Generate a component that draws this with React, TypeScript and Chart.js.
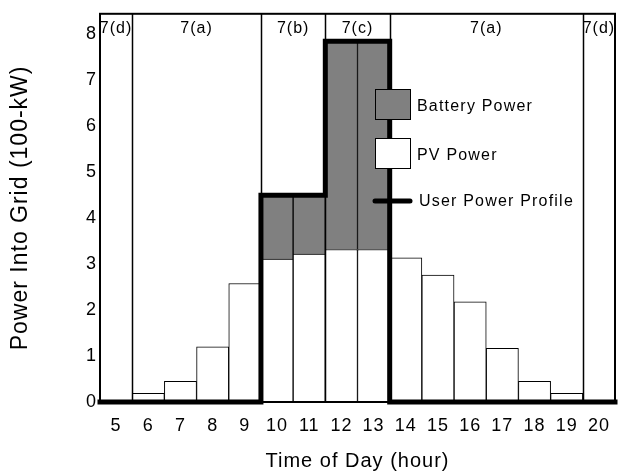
import React, { useEffect, useRef } from 'react';
import { Chart, registerables } from 'chart.js';

Chart.register(...registerables);

// ---- data ----
const hours = [5, 6, 7, 8, 9, 10, 11, 12, 13, 14, 15, 16, 17, 18, 19, 20];
const pvPower = [null, 0.19, 0.45, 1.2, 2.58, 3.11, 3.22, 3.32, 3.32, 3.14, 2.76, 2.18, 1.17, 0.45, 0.19, null];
const batteryPower = [null, null, null, null, null, 1.39, 1.28, 4.53, 4.53, null, null, null, null, null, null, null];
const userProfile = [0, 0, 0, 0, 0, 4.5, 4.5, 7.85, 7.85, 0, 0, 0, 0, 0, 0, 0];
const regionNames = ['7(d)', '7(a)', '7(b)', '7(c)', '7(a)', '7(d)'];
const regionBounds = [4.5, 5.5, 9.5, 11.5, 13.5, 19.5, 20.5];
const yTickValues = [0, 1, 2, 3, 4, 5, 6, 7, 8];
const xTitle = 'Time of Day (hour)';
const yTitle = 'Power Into Grid (100-kW)';

const FONT = "'Liberation Sans', Arial, Helvetica, sans-serif";

const spacingPlugin = {
  id: 'spacing',
  beforeDraw(chart: any) {
    (chart.ctx as any).letterSpacing = '1px';
  },
  afterDraw(chart: any) {
    (chart.ctx as any).letterSpacing = '0px';
  },
};

const overlayPlugin = {
  id: 'overlay',
  afterDatasetsDraw(chart: any) {
    const { ctx, chartArea: area } = chart;
    const xs = chart.scales.x;
    ctx.save();
    // region separators
    ctx.strokeStyle = '#000';
    ctx.lineWidth = 1.5;
    regionBounds.slice(1, -1).forEach((b) => {
      const px = Math.round(xs.getPixelForValue(b)) + 0.5;
      ctx.beginPath();
      ctx.moveTo(px, area.top);
      ctx.lineTo(px, area.bottom);
      ctx.stroke();
    });
    // region labels
    ctx.fillStyle = '#000';
    ctx.font = `16px ${FONT}`;
    (ctx as any).letterSpacing = '1px';
    ctx.textAlign = 'center';
    ctx.textBaseline = 'middle';
    regionNames.forEach((name, i) => {
      const c = (regionBounds[i] + regionBounds[i + 1]) / 2;
      ctx.fillText(name, xs.getPixelForValue(c), area.top + 15);
    });
    // frame
    ctx.lineWidth = 2;
    ctx.strokeRect(area.left, area.top, area.right - area.left, area.bottom - area.top);

    // legend
    const ds = chart.data.datasets;
    const items = [ds[1], ds[0], ds[2]];
    const bx = 375;
    let by = 89;
    ctx.font = `16px ${FONT}`;
    (ctx as any).letterSpacing = '1.2px';
    ctx.textAlign = 'left';
    items.forEach((d: any) => {
      if (d.type === 'line') {
        const cy = by + 14;
        ctx.beginPath();
        ctx.lineCap = 'round';
        ctx.lineWidth = 5;
        ctx.strokeStyle = d.borderColor;
        ctx.moveTo(bx, cy);
        ctx.lineTo(bx + 35, cy);
        ctx.stroke();
        ctx.fillText(d.label, bx + 44, cy + 1);
      } else {
        ctx.fillStyle = d.backgroundColor;
        ctx.fillRect(bx, by, 35, 30);
        ctx.lineWidth = 1;
        ctx.strokeStyle = '#000';
        ctx.strokeRect(bx + 0.5, by + 0.5, 35, 30);
        ctx.fillStyle = '#000';
        ctx.fillText(d.label, bx + 42, by + 18);
      }
      by += 49;
    });
    ctx.restore();
  },
};

export default function App() {
  const ref = useRef<HTMLCanvasElement | null>(null);
  useEffect(() => {
    if (!ref.current) return;
    Chart.defaults.font.family = FONT;
    Chart.defaults.color = '#000';
    const profileData = [
      { x: hours[0] - 0.5, y: userProfile[0] },
      ...hours.map((h, i) => ({ x: h, y: userProfile[i] })),
      { x: hours[hours.length - 1] + 0.5, y: userProfile[userProfile.length - 1] },
    ];
    const chart = new Chart(ref.current, {
      type: 'bar',
      data: {
        datasets: [
          {
            type: 'bar',
            label: 'PV Power',
            data: hours.map((h, i) => ({ x: h, y: pvPower[i] })) as any,
            backgroundColor: '#ffffff',
            borderColor: '#000000',
            borderWidth: 1,
            barPercentage: 1,
            categoryPercentage: 1,
            stack: 'power',
            order: 1,
          },
          {
            type: 'bar',
            label: 'Battery Power',
            data: hours.map((h, i) => ({ x: h, y: batteryPower[i] })) as any,
            backgroundColor: '#808080',
            borderColor: '#000000',
            borderWidth: 1,
            barPercentage: 1,
            categoryPercentage: 1,
            stack: 'power',
            order: 1,
          },
          {
            type: 'line',
            label: 'User Power Profile',
            data: profileData as any,
            borderColor: '#000000',
            borderWidth: 5,
            stepped: 'middle',
            pointRadius: 0,
            fill: false,
            clip: false as any,
            borderCapStyle: 'square',
            borderJoinStyle: 'miter',
            order: 0,
          } as any,
        ],
      },
      options: {
        responsive: false,
        animation: false,
        devicePixelRatio: 1,
        layout: { padding: { top: 12, right: 11, left: 0, bottom: 0 } },
        plugins: { legend: { display: false }, tooltip: { enabled: false } },
        scales: {
          x: {
            type: 'linear',
            stacked: true,
            offset: false,
            min: regionBounds[0],
            max: regionBounds[regionBounds.length - 1],
            grid: { display: false, drawTicks: false, tickLength: 0 },
            border: { display: false },
            afterBuildTicks: (s: any) => {
              s.ticks = hours.map((v) => ({ value: v }));
            },
            afterFit: (s: any) => {
              s.height = 72;
            },
            ticks: {
              autoSkip: false,
              maxRotation: 0,
              padding: 13,
              font: { size: 18 },
              color: '#000',
              callback: (v: any) => String(v),
            },
            title: {
              display: true,
              text: xTitle,
              font: { size: 20 },
              color: '#000',
              padding: { top: 0, bottom: 1 },
            },
          },
          y: {
            type: 'linear',
            stacked: true,
            min: 0,
            max: 8.45,
            grid: { display: false, drawTicks: false, tickLength: 0 },
            border: { display: false },
            afterBuildTicks: (s: any) => {
              s.ticks = yTickValues.map((v) => ({ value: v }));
            },
            afterFit: (s: any) => {
              s.width = 100;
            },
            ticks: {
              padding: 3,
              font: { size: 18 },
              color: '#000',
              callback: (v: any) => String(v),
            },
            title: {
              display: true,
              text: yTitle,
              font: { size: 23 },
              color: '#000',
              padding: { top: 7, bottom: 0 },
            },
          },
        },
      },
      plugins: [spacingPlugin, overlayPlugin],
    });
    return () => chart.destroy();
  }, []);
  return (
    <div style={{ position: 'absolute', left: 0, top: 0, width: 626, height: 474, background: '#fff' }}>
      <canvas ref={ref} width={626} height={474} style={{ display: 'block' }} />
    </div>
  );
}
